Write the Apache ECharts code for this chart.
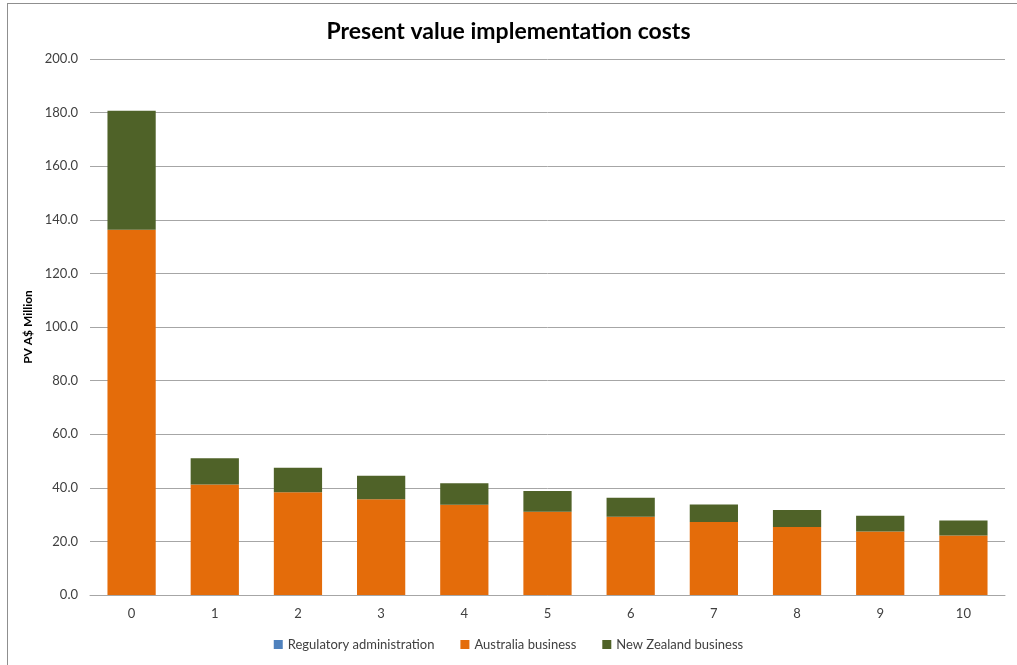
<!DOCTYPE html>
<html>
<head>
<meta charset="utf-8">
<script src="https://cdn.jsdelivr.net/npm/echarts@6/dist/echarts.min.js"></script>
<style>
  html, body { margin: 0; padding: 0; background: #fff; overflow: hidden; }
  #frame { position: absolute; left: 7px; top: 3px; width: 1100px; height: 700px; border-left: 1px solid #8f8f8f; border-top: 1px solid #8f8f8f; box-sizing: border-box; }
  #chart { position: absolute; left: 0; top: 0; width: 1017px; height: 665px; }
</style>
</head>
<body>
<div id="frame"></div>
<div id="chart"></div>
<script>
// Years after implementation
const years = ['0', '1', '2', '3', '4', '5', '6', '7', '8', '9', '10'];
// PV costs, A$ million
const regulatoryAdmin = [0, 0, 0, 0, 0, 0, 0, 0, 0, 0, 0];
const australiaBusiness = [136.3, 41.2, 38.3, 35.7, 33.7, 31.1, 29.2, 27.2, 25.4, 23.7, 22.2];
const newZealandBusiness = [44.4, 9.8, 9.2, 8.8, 8.0, 7.7, 7.1, 6.6, 6.3, 5.9, 5.6];
const yTicks = { min: 0, max: 200, interval: 20 };

const FONT = 'Lato, "Open Sans", sans-serif';
const chart = echarts.init(document.getElementById('chart'), null, { renderer: 'canvas' });

function barSeries(name, data, color) {
  return {
    name: name,
    type: 'bar',
    stack: 'total',
    data: data,
    barWidth: '58%',
    itemStyle: { color: color },
    emphasis: { disabled: true }
  };
}

chart.setOption({
  animation: false,
  title: {
    text: 'Present value implementation costs',
    left: 'center',
    top: 15,
    textStyle: { fontFamily: FONT, fontSize: 23, fontWeight: 'bold', color: '#000' }
  },
  legend: {
    bottom: 9,
    left: 'center',
    itemWidth: 9,
    itemHeight: 9,
    itemGap: 26,
    icon: 'rect',
    textStyle: { fontFamily: FONT, fontSize: 13, color: '#404040' },
    data: ['Regulatory administration', 'Australia business', 'New Zealand business']
  },
  grid: { left: 90, right: 12, top: 59, bottom: 70, containLabel: false },
  xAxis: {
    type: 'category',
    data: years,
    axisLine: { lineStyle: { color: '#a6a6a6' } },
    axisTick: { show: false },
    axisLabel: { fontFamily: FONT, fontSize: 13, color: '#404040', margin: 12 }
  },
  yAxis: {
    type: 'value',
    min: yTicks.min,
    max: yTicks.max,
    interval: yTicks.interval,
    name: 'PV A$ Million',
    nameLocation: 'middle',
    nameGap: 52,
    nameTextStyle: { fontFamily: FONT, fontSize: 12, fontWeight: 'bold', color: '#000' },
    axisLine: { show: false },
    axisTick: { show: false },
    splitLine: { lineStyle: { color: '#a6a6a6' } },
    axisLabel: {
      fontFamily: FONT, fontSize: 13, color: '#404040', margin: 12,
      formatter: v => v.toFixed(1)
    }
  },
  series: [
    barSeries('Regulatory administration', regulatoryAdmin, '#4f81bd'),
    barSeries('Australia business', australiaBusiness, '#e46c0a'),
    barSeries('New Zealand business', newZealandBusiness, '#4f6228')
  ]
});
</script>
</body>
</html>
